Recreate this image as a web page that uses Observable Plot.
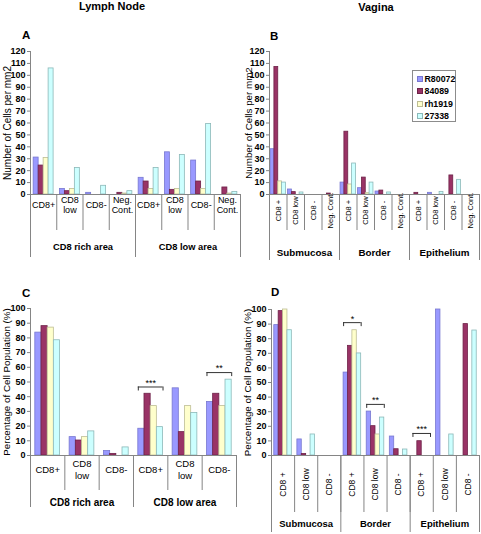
<!DOCTYPE html>
<html>
<head>
<meta charset="utf-8">
<script src="https://cdn.jsdelivr.net/npm/d3@7"></script>
<script src="https://cdn.jsdelivr.net/npm/@observablehq/plot@0.6"></script>
<style>
  html, body { margin: 0; padding: 0; background: #fff; }
  #fig { position: relative; width: 481px; height: 534px; overflow: hidden; font-family: "Liberation Sans", Arial, sans-serif; color: #000; }
  .title { font-weight: bold; font-size: 11px; line-height: 11px; white-space: nowrap; transform: translate(-50%, -50%); }
  .letter { font-weight: bold; font-size: 11.5px; line-height: 11.5px; }
  #legend { border: 1px solid #8c8c8c; background: #fff; box-sizing: border-box; padding: 2px 0 0 4px; }
  .li { display: flex; align-items: center; height: 12.3px; font-size: 8.8px; font-weight: bold; white-space: nowrap; }
  .sw { width: 4px; height: 4px; border: 0.8px solid; margin-right: 2px; flex: none; }
</style>
</head>
<body>
<div id="fig"></div>
<script>
// ---------- shared ----------
const series = ["R80072", "84089", "rh1919", "27338"];
const fills = ["#9999ff", "#993366", "#ffffcc", "#ccffff"];
const edges = ["#7878d0", "#6e2248", "#bdbd94", "#8cb8b8"];

// ---------- Panel A: Lymph Node, cells per mm2 ----------
const aCategories = ["CD8+", "CD8\nlow", "CD8-", "Neg.\nCont.", "CD8+", "CD8\nlow", "CD8-", "Neg.\nCont."];
const aGroups = ["CD8 rich area", "CD8 low area"];
const aGroupSizes = [4, 4];
const aR80072 = [31, 4.7, 1.4, 0, 14, 35.4, 28.5, 0];
const a84089 = [24.3, 2.8, 0, 1.4, 10.9, 3.9, 10.9, 5.9];
const aRh1919 = [30.7, 4.7, 0, 0.8, 4.7, 4.7, 4.7, 0.8];
const a27338 = [105.8, 22.3, 7.3, 2.8, 22.3, 33.2, 59.2, 2.2];
const aTicks = [0, 10, 20, 30, 40, 50, 60, 70, 80, 90, 100, 110, 120];

// ---------- Panel B: Vagina, cells per mm2 ----------
const bCategories = ["CD8 +", "CD8 low", "CD8 -", "Neg. Cont.", "CD8 +", "CD8 low", "CD8 -", "Neg. Cont.", "CD8 +", "CD8 low", "CD8 -", "Neg. Cont."];
const bGroups = ["Submucosa", "Border", "Epithelium"];
const bGroupSizes = [4, 4, 4];
const bR80072 = [38, 4.2, 0, 0, 10, 5.3, 2.5, 0, 0, 1.4, 0, 0];
const b84089 = [107, 2, 0, 0.8, 52.7, 14.2, 3.3, 0, 1.4, 0, 16, 0];
const bRh1919 = [11, 0, 0, 0, 8.4, 1.1, 0, 0, 0, 0, 0, 0];
const b27338 = [10, 1.7, 0, 0, 26, 10, 1.7, 0, 0, 2.2, 12.3, 0];
const bTicks = [0, 10, 20, 30, 40, 50, 60, 70, 80, 90, 100, 110, 120];

// ---------- Panel C: Lymph Node, % of cell population ----------
const cCategories = ["CD8+", "CD8\nlow", "CD8-", "CD8+", "CD8\nlow", "CD8-"];
const cGroups = ["CD8 rich area", "CD8 low area"];
const cGroupSizes = [3, 3];
const cR80072 = [83.6, 12.5, 3, 18.2, 45.7, 36.4];
const c84089 = [88, 10.2, 1.1, 42, 15.9, 42];
const cRh1919 = [87, 12.5, 0, 33.6, 33.6, 33.6];
const c27338 = [78.4, 16.4, 5.5, 19.3, 28.9, 51.6];
const cTicks = [0, 10, 20, 30, 40, 50, 60, 70, 80, 90, 100];
const cSigCats = [3, 5];
const cSigLevels = [46.6, 56.4];
const cSigLabels = ["***", "**"];

// ---------- Panel D: Vagina, % of cell population ----------
const dCategories = ["CD8 +", "CD8 low", "CD8 -", "CD8 +", "CD8 low", "CD8 -", "CD8 +", "CD8 low", "CD8 -"];
const dGroups = ["Submucosa", "Border", "Epithelium"];
const dGroupSizes = [3, 3, 3];
const dR80072 = [89.3, 11, 0, 56.8, 30.1, 13, 0, 100, 0];
const d84089 = [98.9, 1.1, 0, 75.1, 20.1, 4.3, 9.8, 0, 90];
const dRh1919 = [100, 0, 0, 85.8, 14.4, 0, 0, 0, 0];
const d27338 = [85.8, 14.4, 0, 69.9, 26, 4.1, 0, 14.4, 85.6];
const dTicks = [0, 10, 20, 30, 40, 50, 60, 70, 80, 90, 100];
const dSigCats = [3, 4, 6];
const dSigLevels = [91, 35, 15.1];
const dSigLabels = ["*", "**", "***"];

const gray = "#858585";
const FONT = '"Liberation Sans", Arial, sans-serif';

function makePanel(cfg) {
  const n = cfg.categories.length;
  const w = cfg.barFrac;
  const pad = (1 - 4 * w) / 2;
  const rows = [];
  cfg.values.forEach((arr, s) => arr.forEach((v, i) => { if (v > 0) rows.push({i, s, v}); }));
  const catEdges = d3.range(n + 1);
  const grpEdges = [0, ...d3.cumsum(cfg.groupSizes)];
  const grpMids = cfg.groups.map((g, k) => (grpEdges[k] + grpEdges[k + 1]) / 2);
  const sig = (cfg.sigCats || []).map((c, k) => ({c, level: cfg.sigLevels[k], label: cfg.sigLabels[k]}));
  const sigEnds = sig.flatMap(d => [{x: d.c + pad, level: d.level}, {x: d.c + 1 - pad, level: d.level}]);
  return Plot.plot({
    width: cfg.width, height: cfg.height,
    marginLeft: cfg.ml, marginRight: cfg.mr, marginTop: cfg.mt, marginBottom: cfg.mb,
    style: {background: "transparent", overflow: "visible", fontFamily: FONT, fontSize: "10px", color: "#000"},
    x: {domain: [0, n], axis: null},
    y: {domain: [0, cfg.yMax], axis: null},
    color: {type: "identity"},
    marks: [
      Plot.rect(rows, {
        x1: d => d.i + pad + d.s * w,
        x2: d => d.i + pad + (d.s + 1) * w,
        y1: 0, y2: "v",
        fill: d => fills[d.s], stroke: d => edges[d.s], strokeWidth: 0.8
      }),
      Plot.ruleY([0], {stroke: gray}),
      Plot.ruleX([0], {y1: 0, y2: cfg.yMax, stroke: gray}),
      // y ticks and tick labels
      Plot.ruleY(cfg.yTicks, {y: d => d, x1: 0, x2: 0, insetLeft: -3, stroke: gray}),
      Plot.text(cfg.yTicks, {y: d => d, frameAnchor: "left", dx: -5, textAnchor: "end", lineAnchor: "middle",
        text: d => String(d), fontWeight: "bold", fontSize: cfg.tickFont, fill: "#000"}),
      // category / group separators below the axis
      Plot.ruleX(catEdges, {x: d => d, y1: 0, y2: 0, insetBottom: -cfg.catLen, stroke: gray}),
      Plot.ruleX(grpEdges, {x: d => d, y1: 0, y2: 0, insetBottom: -cfg.grpLen, stroke: gray}),
      Plot.text(cfg.categories, {
        x: (d, i) => i + 0.5, frameAnchor: "bottom", dy: cfg.catDy, text: d => d,
        rotate: cfg.catRotate || 0, fontSize: cfg.catFont, lineHeight: cfg.catLH || 1,
        lineAnchor: "middle", textAnchor: "middle"
      }),
      Plot.text(cfg.groups, {
        x: (d, i) => grpMids[i], frameAnchor: "bottom", dy: cfg.grpDy, text: d => d,
        fontWeight: "bold", fontSize: cfg.grpFont, lineAnchor: "middle", textAnchor: "middle"
      }),
      Plot.text([cfg.yLabel], {frameAnchor: "left", rotate: -90, dx: cfg.yLabelDx, text: d => d,
        fontSize: cfg.yLabelFont, lineAnchor: "middle", textAnchor: "middle"}),
      // significance brackets
      Plot.ruleY(sig, {y: "level", x1: d => d.c + pad, x2: d => d.c + 1 - pad, stroke: "#333"}),
      Plot.ruleX(sigEnds, {x: "x", y1: "level", y2: "level", insetBottom: -4, stroke: "#333"}),
      Plot.text(sig, {x: d => d.c + 0.5, y: "level", dy: -4, text: "label", fontSize: 9, textAnchor: "middle"})
    ]
  });
}

const fig = document.getElementById("fig");
function place(el, left, top) {
  el.style.position = "absolute";
  el.style.left = left + "px";
  el.style.top = top + "px";
  fig.appendChild(el);
}

const panelA = makePanel({
  categories: aCategories, groups: aGroups, groupSizes: aGroupSizes,
  values: [aR80072, a84089, aRh1919, a27338], yMax: 120, yTicks: aTicks,
  yLabel: "Number of Cells per mm2",
  width: 241, height: 262, ml: 30, mr: 1, mt: 51, mb: 68,
  barFrac: 0.19, catLen: 36, grpLen: 63, catDy: 10, catFont: 9, catLH: 1.1,
  grpDy: 53, grpFont: 9.3, yLabelDx: -23, yLabelFont: 10, tickFont: 9
});
const panelB = makePanel({
  categories: bCategories, groups: bGroups, groupSizes: bGroupSizes,
  values: [bR80072, b84089, bRh1919, b27338], yMax: 120, yTicks: bTicks,
  yLabel: "Number of Cells per mm2",
  width: 241, height: 262, ml: 29, mr: 2, mt: 51, mb: 68,
  barFrac: 0.22, catLen: 36, grpLen: 66, catDy: 16, catFont: 7.5, catRotate: -90,
  grpDy: 58, grpFont: 9.8, yLabelDx: -21, yLabelFont: 9.8, tickFont: 9
});
const panelC = makePanel({
  categories: cCategories, groups: cGroups, groupSizes: cGroupSizes,
  values: [cR80072, c84089, cRh1919, c27338], yMax: 100, yTicks: cTicks,
  yLabel: "Percentage of Cell Population (%)",
  width: 241, height: 272, ml: 30, mr: 5, mt: 46, mb: 79,
  barFrac: 0.18, catLen: 35, grpLen: 52, catDy: 14, catFont: 9.5, catLH: 1.25,
  grpDy: 47, grpFont: 10, yLabelDx: -24, yLabelFont: 9.8, tickFont: 9,
  sigCats: cSigCats, sigLevels: cSigLevels, sigLabels: cSigLabels
});
const panelD = makePanel({
  categories: dCategories, groups: dGroups, groupSizes: dGroupSizes,
  values: [dR80072, d84089, dRh1919, d27338], yMax: 100, yTicks: dTicks,
  yLabel: "Percentage of Cell Population (%)",
  width: 241, height: 272, ml: 31, mr: 2, mt: 47, mb: 79,
  barFrac: 0.19, catLen: 57, grpLen: 77, catDy: 29, catFont: 8.5, catRotate: -90,
  grpDy: 68, grpFont: 9.5, yLabelDx: -23.5, yLabelFont: 9.8, tickFont: 9,
  sigCats: dSigCats, sigLevels: dSigLevels, sigLabels: dSigLabels
});

place(panelA, 0, 0);
place(panelB, 240, 0);
place(panelC, 0, 262);
place(panelD, 240, 262);

// titles and panel letters
function label(text, cls, left, top) {
  const d = document.createElement("div");
  d.className = cls;
  d.textContent = text;
  place(d, left, top);
}
label("Lymph Node", "title", 112, 6);
label("Vagina", "title", 376, 6.5);
label("A", "letter", 22, 29.5);
label("B", "letter", 270, 30.5);
label("C", "letter", 22, 287.5);
label("D", "letter", 271, 286.5);

// legend
const legend = document.createElement("div");
legend.id = "legend";
legend.style.width = "44px";
legend.style.height = "52px";
series.forEach((name, s) => {
  const row = document.createElement("div");
  row.className = "li";
  const sw = document.createElement("span");
  sw.className = "sw";
  sw.style.background = fills[s];
  sw.style.borderColor = edges[s];
  row.appendChild(sw);
  row.appendChild(document.createTextNode(name));
  legend.appendChild(row);
});
place(legend, 411.5, 70);
</script>
</body>
</html>
